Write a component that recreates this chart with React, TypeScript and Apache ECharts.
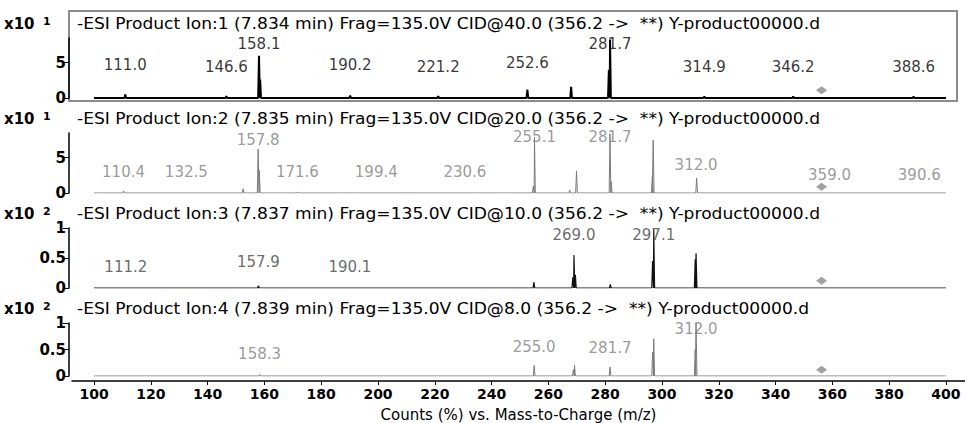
import React, { useEffect, useRef } from "react";
import * as echarts from "echarts";

// ---------- data ----------
const xTickValues = [100, 120, 140, 160, 180, 200, 220, 240, 260, 280, 300, 320, 340, 360, 380, 400];
const xAxisTitle = "Counts (%) vs. Mass-to-Charge (m/z)";

const rowTitles = [
  "-ESI Product Ion:1 (7.834 min) Frag=135.0V CID@40.0 (356.2 ->  **) Y-product00000.d",
  "-ESI Product Ion:2 (7.835 min) Frag=135.0V CID@20.0 (356.2 ->  **) Y-product00000.d",
  "-ESI Product Ion:3 (7.837 min) Frag=135.0V CID@10.0 (356.2 ->  **) Y-product00000.d",
  "-ESI Product Ion:4 (7.839 min) Frag=135.0V CID@8.0 (356.2 ->  **) Y-product00000.d",
];
const rowExponents = ["1", "1", "2", "2"];
const rowYMax = [8.5, 8.5, 1, 1];
const rowYTicks = [[0, 5], [0, 5], [0, 0.5, 1], [0, 0.5, 1]];

// peaks (m/z, intensity in axis units)
const peaksMz1 = [111.0, 146.6, 158.1, 158.5, 190.2, 221.2, 252.6, 268.0, 281.3, 281.7, 314.9, 346.2, 388.6];
const peaksInt1 = [0.5, 0.25, 6.0, 2.6, 0.35, 0.25, 1.2, 1.6, 4.0, 8.3, 0.2, 0.2, 0.2];

const peaksMz2 = [110.4, 152.5, 157.8, 158.2, 171.6, 254.7, 255.1, 267.5, 269.9, 281.7, 282.1, 296.6, 296.9, 312.2];
const peaksInt2 = [0.3, 0.6, 6.2, 3.2, 0.15, 1.0, 7.9, 0.4, 3.1, 8.4, 1.6, 2.3, 7.5, 2.1];

const peaksMz3 = [157.9, 254.9, 268.6, 269.0, 269.5, 281.8, 296.7, 297.1, 311.7, 312.0];
const peaksInt3 = [0.04, 0.1, 0.18, 0.55, 0.22, 0.06, 0.45, 0.98, 0.48, 0.58];

const peaksMz4 = [158.3, 255.0, 268.8, 269.2, 281.7, 296.7, 297.1, 311.7, 312.0];
const peaksInt4 = [0.03, 0.2, 0.12, 0.2, 0.17, 0.45, 0.7, 0.5, 1.0];

// peak annotations (label m/z, label height in axis units)
const labelsMz1 = [111.0, 146.6, 158.1, 190.2, 221.2, 252.6, 281.7, 314.9, 346.2, 388.6];
const labelsLvl1 = [4.7, 4.4, 7.6, 4.7, 4.4, 4.9, 7.6, 4.4, 4.4, 4.4];

const labelsMz2 = [110.4, 132.5, 157.8, 171.6, 199.4, 230.6, 255.1, 281.7, 312.0, 359.0, 390.6];
const labelsLvl2 = [3.0, 3.0, 7.5, 3.0, 3.0, 3.0, 7.9, 7.9, 4.0, 2.6, 2.6];

const labelsMz3 = [111.2, 157.9, 190.1, 269.0, 297.1];
const labelsLvl3 = [0.35, 0.43, 0.35, 0.88, 0.88];

const labelsMz4 = [158.3, 255.0, 281.7, 312.0];
const labelsLvl4 = [0.42, 0.55, 0.52, 0.88];

const precursorMz = 356.2;
const precursorLvl = [1.1, 0.9, 0.12, 0.12];

const scanStart = 100;
const scanEnd = 400;

// ---------- styling ----------
const FONT = "DejaVu Sans";
const rowZeroY = [98, 193, 288, 383];
const plotH = 60;
const lineColors = ["#000000", "#7a7a7a", "#111111", "#7a7a7a"];
const lineWidths = [2, 1, 1.2, 1];
const labelColors = ["#000000", "#808080", "#444444", "#808080"];

const peaksMz = [peaksMz1, peaksMz2, peaksMz3, peaksMz4];
const peaksInt = [peaksInt1, peaksInt2, peaksInt3, peaksInt4];
const labelsMz = [labelsMz1, labelsMz2, labelsMz3, labelsMz4];
const labelsLvl = [labelsLvl1, labelsLvl2, labelsLvl3, labelsLvl4];

function profile(mz: number[], inten: number[]) {
  const idx = mz.map((_, i) => i).sort((a, b) => mz[a] - mz[b]);
  const pts: number[][] = [[scanStart, 0]];
  const hw = 0.3;
  idx.forEach((i) => {
    pts.push([mz[i] - hw, 0]);
    pts.push([mz[i], inten[i]]);
    pts.push([mz[i] + hw, 0]);
  });
  pts.push([scanEnd, 0]);
  return pts;
}

export default function App() {
  const ref = useRef<HTMLDivElement>(null);
  useEffect(() => {
    if (!ref.current) return;
    const chart = echarts.init(ref.current, undefined, { renderer: "svg" });
    const gridLeft = 72;
    const xMin = 92.25;
    const xMax = 406.7;

    const grids: any[] = [];
    const xAxes: any[] = [];
    const yAxes: any[] = [];
    const series: any[] = [];
    const graphics: any[] = [];

    graphics.push({
      type: "rect",
      shape: { x: 69, y: 11, width: 888, height: 90 },
      style: { fill: "none", stroke: "#8c8c8c", lineWidth: 2 },
      z: 0,
    });

    for (let r = 0; r < 4; r++) {
      const zero = rowZeroY[r];
      grids.push({ left: gridLeft, right: 0, top: zero - plotH, height: plotH });
      const isBottom = r === 3;
      xAxes.push({
        gridIndex: r,
        type: "value",
        min: xMin,
        max: xMax,
        show: isBottom,
        offset: isBottom ? 5 : 0,
        axisLine: { show: true, onZero: false, lineStyle: { color: "#000", width: 1.5 } },
        axisTick: { show: true, customValues: xTickValues, length: 4, lineStyle: { color: "#000" } },
        axisLabel: {
          customValues: xTickValues,
          color: "#000",
          fontFamily: FONT,
          fontWeight: "bold",
          fontSize: 14,
          margin: 6,
        },
        splitLine: { show: false },
        name: isBottom ? xAxisTitle : "",
        nameLocation: "middle",
        nameGap: 26,
        nameTextStyle: { color: "#000", fontFamily: FONT, fontSize: 15 },
      });
      yAxes.push({
        gridIndex: r,
        type: "value",
        min: 0,
        max: rowYMax[r],
        offset: 3,
        axisLine: { show: true, lineStyle: { color: "#000", width: 1.5 } },
        axisTick: { show: true, customValues: rowYTicks[r], length: 6, lineStyle: { color: "#000" } },
        axisLabel: {
          customValues: rowYTicks[r],
          color: "#000",
          fontFamily: FONT,
          fontWeight: "bold",
          fontSize: 15,
          margin: 3,
        },
        splitLine: { show: false },
      });

      series.push({
        type: "line",
        xAxisIndex: r,
        yAxisIndex: r,
        data: profile(peaksMz[r], peaksInt[r]),
        showSymbol: false,
        symbol: "none",
        lineStyle: { color: lineColors[r], width: lineWidths[r] },
        z: 2,
      });
      series.push({
        type: "scatter",
        xAxisIndex: r,
        yAxisIndex: r,
        data: [[precursorMz, precursorLvl[r]]],
        symbol: "diamond",
        symbolSize: [11, 8],
        itemStyle: { color: "#8a8a8a" },
        z: 3,
      });
      series.push({
        type: "scatter",
        xAxisIndex: r,
        yAxisIndex: r,
        data: labelsMz[r].map((m, i) => ({ value: [m, labelsLvl[r][i]], name: m.toFixed(1) })),
        symbolSize: 0,
        itemStyle: { color: "transparent" },
        label: {
          show: true,
          position: "inside",
          formatter: (p: any) => p.name,
          color: labelColors[r],
          fontFamily: FONT,
          fontSize: 15,
        },
        z: 1,
      });

      const ty = zero - 74;
      graphics.push({
        type: "text",
        x: 4,
        y: ty,
        style: { text: "x10", font: `bold 15px "${FONT}"`, fill: "#000", textVerticalAlign: "middle" },
      });
      graphics.push({
        type: "text",
        x: 43,
        y: ty - 3,
        style: { text: rowExponents[r], font: `bold 11px "${FONT}"`, fill: "#000", textVerticalAlign: "middle" },
      });
      graphics.push({
        type: "text",
        x: 77,
        y: ty,
        scaleX: 1.14,
        style: { text: rowTitles[r], font: `15px "${FONT}"`, fill: "#000", textVerticalAlign: "middle" },
      });
    }

    chart.setOption({
      animation: false,
      backgroundColor: "#ffffff",
      grid: grids,
      xAxis: xAxes,
      yAxis: yAxes,
      series,
      graphic: graphics,
    });
    return () => chart.dispose();
  }, []);
  return <div ref={ref} style={{ position: "fixed", left: 0, top: 0, width: 965, height: 423 }} />;
}
